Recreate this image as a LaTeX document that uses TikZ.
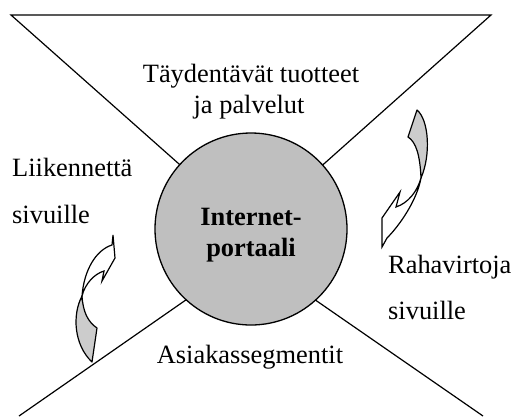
\documentclass[tikz,border=0pt]{standalone}
\usepackage{fontspec}
\setmainfont{Liberation Serif}
\begin{document}
\begin{tikzpicture}[x=1bp,y=-1bp,
  edgeline/.style={line width=1.2bp, line join=miter},
  hub/.style={circle, draw, line width=1.3bp, fill=black!25, minimum size=192bp, inner sep=0pt},
  txt/.style={inner sep=0pt, font=\fontsize{26.4bp}{31bp}\selectfont},
  boldtxt/.style={txt, font=\fontsize{26.4bp}{31bp}\selectfont\bfseries},
  ribbonback/.style={draw, fill=black!20, line width=1.2bp, line join=round},
  ribbonfront/.style={draw, fill=white, line width=1.2bp, line join=miter}
]
\useasboundingbox (0,0) rectangle (515,416);

% corners of the hourglass frame
\coordinate (tl) at (11,15);
\coordinate (tr) at (491,15);
\coordinate (bl) at (19,416);
\coordinate (br) at (483,416);
% inner ends, hidden under the hub
\coordinate (tlin) at (214,195);
\coordinate (trin) at (289,195);
\coordinate (blin) at (216,279);
\coordinate (brin) at (285,279);

\draw[edgeline] (tlin) -- (tl) -- (tr) -- (trin);
\draw[edgeline] (bl) -- (blin);
\draw[edgeline] (br) -- (brin);

% central hub
\node[hub] (portal) at (251,229) {};
\node[boldtxt, anchor=base] (portalA) at (251,225) {Internet-};
\node[boldtxt, anchor=base] (portalB) at (251,256) {portaali};

% segment captions
\node[txt, anchor=base] (topA) at (251,82) {Täydentävät tuotteet};
\node[txt, anchor=base] (topB) at (249,113) {ja palvelut};
\node[txt, anchor=base] (bottom) at (250,363) {Asiakassegmentit};
\node[txt, anchor=base west] (leftA) at (12,176) {Liikennettä};
\node[txt, anchor=base west] (leftB) at (12,223) {sivuille};
\node[txt, anchor=base west] (rightA) at (388,273) {Rahavirtoja};
\node[txt, anchor=base west] (rightB) at (388,319) {sivuille};

% twisted curved arrow on the right
\draw[ribbonback] (417,110) .. controls (429,120) and (431,155) .. (421,178)
  .. controls (420,155) and (416,142) .. (408,137) -- cycle;
\draw[ribbonfront] (421,178) .. controls (417,200) and (400,225) .. (387,238)
  -- (382,247) -- (382,218) -- (400,192) -- (396,207)
  .. controls (408,203) and (417,192) .. cycle;

% twisted curved arrow on the left
\draw[ribbonback] (82,296) .. controls (72,315) and (74,345) .. (92,362)
  -- (97,328) .. controls (88,322) and (83,312) .. cycle;
\draw[ribbonfront] (82,296) .. controls (84,270) and (96,250) .. (112,245)
  -- (113,235) -- (115,258) -- (102,281) -- (104,271)
  .. controls (94,274) and (85,284) .. cycle;
\end{tikzpicture}
\end{document}
